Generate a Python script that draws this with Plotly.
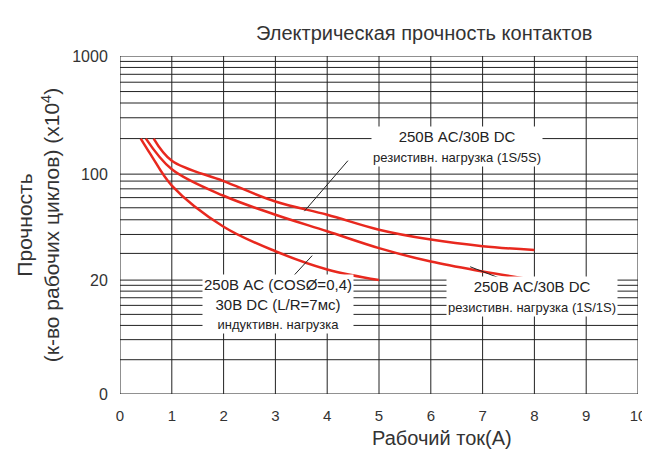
import numpy as np
import plotly.graph_objects as go

# data
x_top = [0.65, 1, 2, 3, 4, 5, 6, 7, 8]
y_top = [200, 130, 90, 66, 54, 43, 37, 33.5, 31.6]
x_mid = [0.5, 1, 2, 3, 4, 5, 6, 7, 8]
y_mid = [200, 110, 72, 54, 42, 32.5, 26.5, 22.8, 20]
x_low = [0.4, 0.6, 1, 2, 3, 4, 5]
y_low = [200, 145, 84, 45, 31, 23.5, 20]
ytick_vals = [2, 20, 100, 1000]
ytick_text = ["0", "20", "100", "1000"]
grid_vals = [4, 6, 8, 10, 12, 14, 16, 18, 30, 40, 50, 60, 70, 80, 90,
             200, 300, 400, 500, 600, 700, 800, 900]

anchor_pos = [0, 1.075, 2.075, 3.19]

def ypos(v):
    lv = np.log10(np.asarray(v, dtype=float))
    return np.interp(lv, np.log10(ytick_vals), anchor_pos)

fig = go.Figure()
for xs, ys in [(x_top, y_top), (x_mid, y_mid), (x_low, y_low)]:
    fig.add_trace(go.Scatter(x=xs, y=ypos(ys), mode="lines",
                             line=dict(color="#e8281e", width=2.5, shape="spline", smoothing=1.0),
                             hoverinfo="skip"))

shapes = []
for g in grid_vals:
    p = float(ypos(g))
    shapes.append(dict(type="line", xref="x", yref="y", x0=0, x1=10, y0=p, y1=p,
                       line=dict(color="#222", width=1), layer="below"))
for xv in range(11):
    shapes.append(dict(type="line", xref="x", yref="y", x0=xv, x1=xv, y0=0, y1=anchor_pos[-1],
                       line=dict(color="#222", width=1), layer="below"))
for tv in ytick_vals:
    p = float(ypos(tv))
    shapes.append(dict(type="line", xref="x", yref="y", x0=0, x1=10, y0=p, y1=p,
                       line=dict(color="#222", width=1), layer="below"))
def lead(x0, v0, x1, v1):
    shapes.append(dict(type="line", xref="x", yref="y", x0=x0, x1=x1,
                       y0=float(ypos(v0)), y1=float(ypos(v1)),
                       line=dict(color="#222", width=1)))
lead(3.56, 57, 4.4, 130)
lead(3.71, 29, 3.05, 15.5)
lead(6.76, 24.5, 7.83, 17)
fig.update_layout(shapes=shapes)

fam = "Liberation Sans Narrow, Liberation Sans, Arial"
ann_font = dict(family=fam, size=15, color="#222")
fig.add_annotation(x=6.5, y=float(ypos(172)), xref="x", yref="y",
                   text="250В AC/30В DC<br><span style='font-size:13px'>резистивн. нагрузка (1S/5S)</span>",
                   showarrow=False, bgcolor="white", font=ann_font)
fig.add_annotation(x=3.05, y=float(ypos(12.3)), xref="x", yref="y",
                   text="250В AC (COSØ=0,4)<br>30В DC (L/R=7мс)<br><span style='font-size:13px'>индуктивн. нагрузка</span>",
                   showarrow=False, bgcolor="white", font=ann_font)
fig.add_annotation(x=7.95, y=float(ypos(14.5)), xref="x", yref="y",
                   text="250В AC/30В DC<br><span style='font-size:13px'>резистивн. нагрузка (1S/1S)</span>",
                   showarrow=False, bgcolor="white", font=ann_font)
fig.add_annotation(x=0.587, y=1.107, xref="paper", yref="paper",
                   text="Электрическая прочность контактов", showarrow=False,
                   font=dict(family=fam, size=20, color="#333"))
fig.add_annotation(x=0.76, y=-0.169, xref="paper", yref="paper",
                   text="Рабочий ток(A)", showarrow=False,
                   font=dict(family=fam, size=20, color="#333"))

fig.update_xaxes(range=[0, 10], tickvals=list(range(11)), showgrid=False, zeroline=False,
                 ticks="outside", ticklen=8, tickcolor="rgba(0,0,0,0)",
                 tickfont=dict(size=15, color="#333", family=fam))
fig.update_yaxes(range=[0, anchor_pos[-1]], tickvals=[float(v) for v in ypos(ytick_vals)],
                 ticktext=ytick_text, showgrid=False, zeroline=False,
                 ticks="outside", ticklen=8, tickcolor="rgba(0,0,0,0)",
                 tickfont=dict(size=16, color="#333", family=fam),
                 title=dict(text="Прочность<br>(к-во рабочих циклов) (x10<sup>4</sup>)",
                            font=dict(size=21, color="#333", family=fam),
                            standoff=6))
fig.update_layout(width=650, height=459, margin=dict(l=112, r=13, t=48, b=73),
                  plot_bgcolor="white", paper_bgcolor="white", showlegend=False)
fig.write_html("out.html")
